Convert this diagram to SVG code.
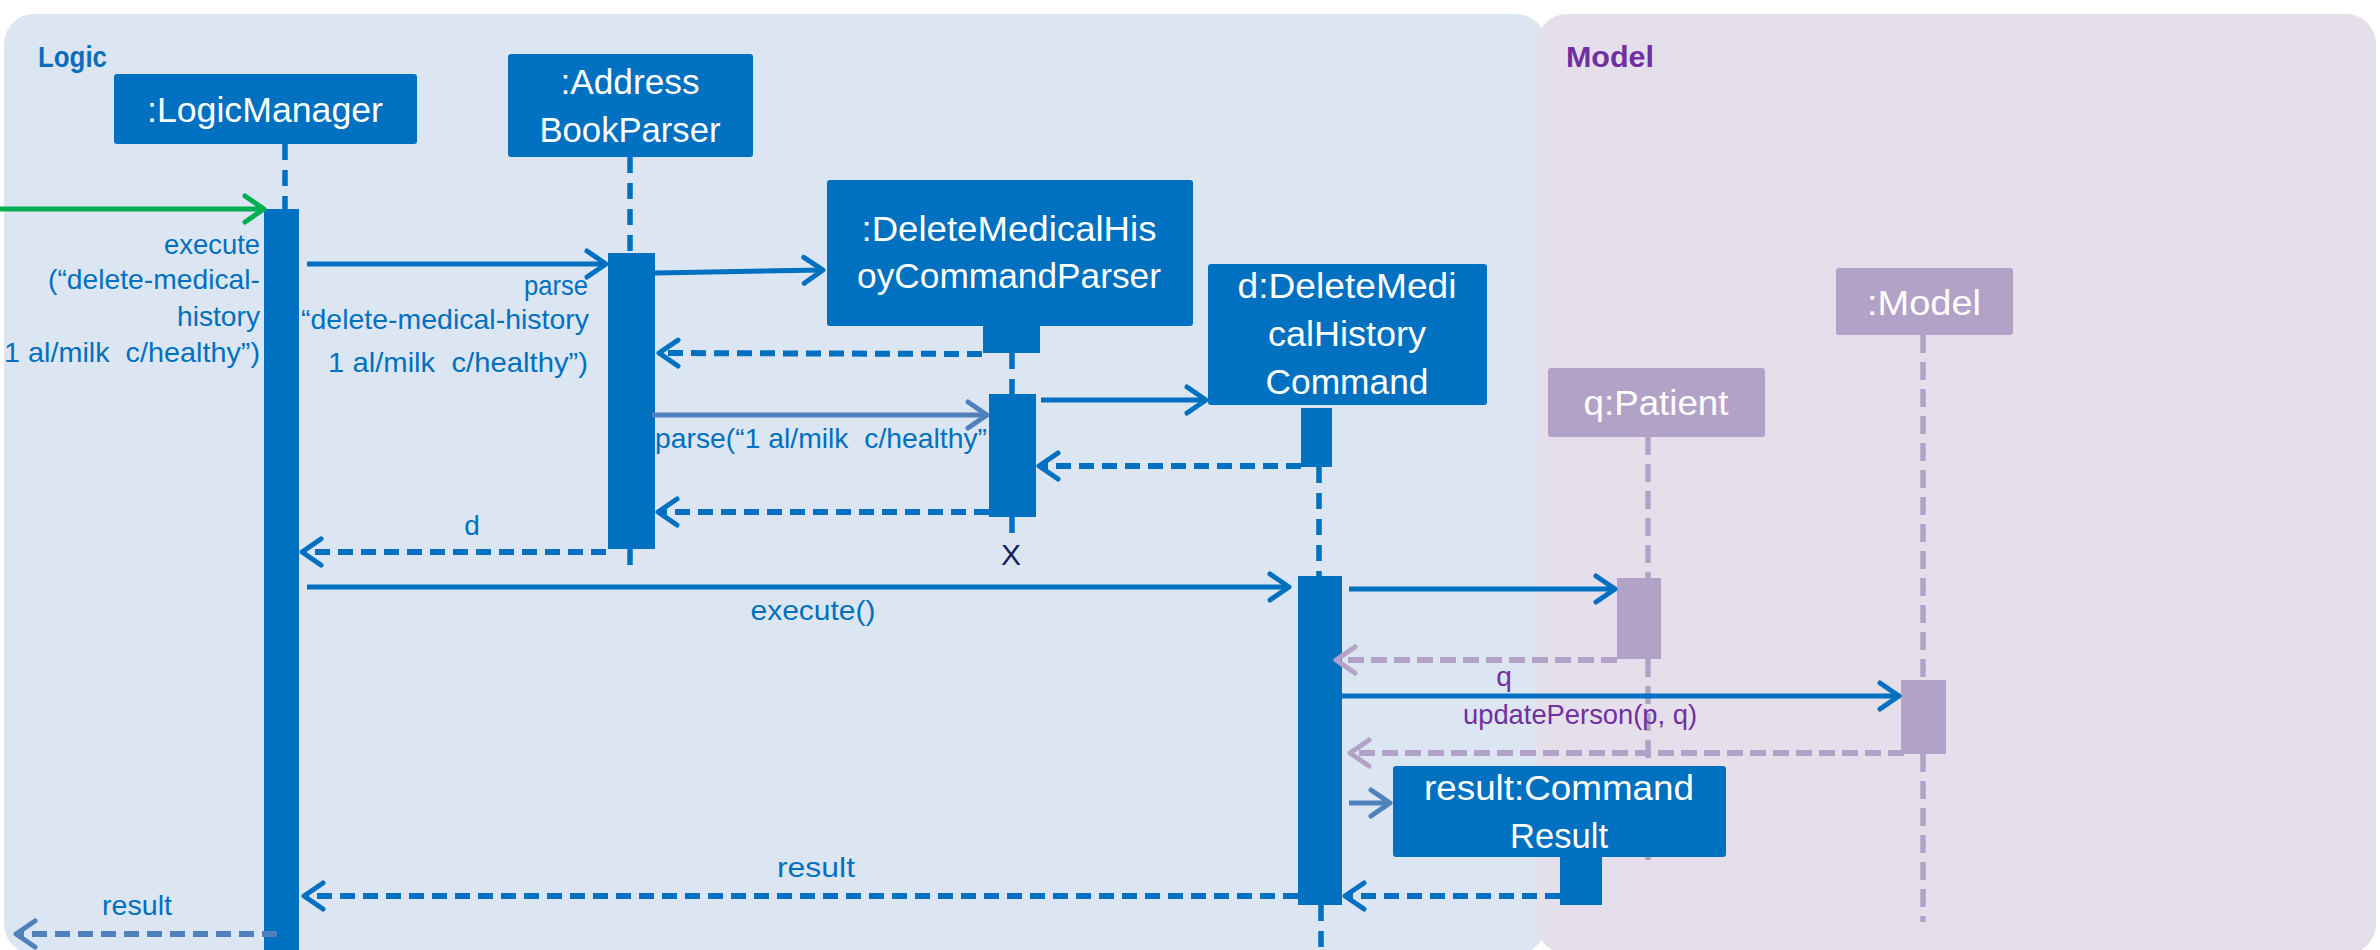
<svg xmlns="http://www.w3.org/2000/svg" width="2380" height="950" viewBox="0 0 2380 950">
<defs>
<style>
text{font-family:"Liberation Sans",Arial,sans-serif}
.box{fill:#0070c0}
.pbox{fill:#b3a2c7}
.bt{fill:#ffffff;font-size:35px;text-anchor:middle}
.lbl{fill:#0070c0;font-size:28px}
.plbl{fill:#7030a0;font-size:28px}
.life{stroke:#0070c0;stroke-width:5.5;stroke-dasharray:16 10;fill:none}
.plife{stroke:#b3a2c7;stroke-width:5.5;stroke-dasharray:18 9;fill:none}
.call{stroke:#0070c0;stroke-width:5;fill:none;marker-end:url(#hb)}
.lcall{stroke:#4f81bd;stroke-width:5;fill:none;marker-end:url(#hl)}
.ret{stroke:#0070c0;stroke-width:6;stroke-dasharray:15 8;fill:none;marker-end:url(#hb)}
.lret{stroke:#4f81bd;stroke-width:6;stroke-dasharray:15 8;fill:none;marker-end:url(#hl)}
.pret{stroke:#b3a2c7;stroke-width:6;stroke-dasharray:16 7;fill:none;marker-end:url(#hp)}
</style>
<marker id="hb" markerUnits="userSpaceOnUse" markerWidth="40" markerHeight="40" viewBox="-25 -20 30 40" refX="0" refY="0" orient="auto" overflow="visible"><path d="M-19,-13 L0,0 L-19,13" fill="none" stroke="#0070c0" stroke-width="5" stroke-linecap="round" stroke-linejoin="round"/></marker>
<marker id="hl" markerUnits="userSpaceOnUse" markerWidth="40" markerHeight="40" viewBox="-25 -20 30 40" refX="0" refY="0" orient="auto" overflow="visible"><path d="M-19,-13 L0,0 L-19,13" fill="none" stroke="#4f81bd" stroke-width="5" stroke-linecap="round" stroke-linejoin="round"/></marker>
<marker id="hp" markerUnits="userSpaceOnUse" markerWidth="40" markerHeight="40" viewBox="-25 -20 30 40" refX="0" refY="0" orient="auto" overflow="visible"><path d="M-19,-13 L0,0 L-19,13" fill="none" stroke="#b3a2c7" stroke-width="5" stroke-linecap="round" stroke-linejoin="round"/></marker>
<marker id="hg" markerUnits="userSpaceOnUse" markerWidth="40" markerHeight="40" viewBox="-25 -20 30 40" refX="0" refY="0" orient="auto" overflow="visible"><path d="M-19,-13 L0,0 L-19,13" fill="none" stroke="#00b050" stroke-width="5" stroke-linecap="round" stroke-linejoin="round"/></marker>
</defs>

<g id="panels">
<rect id="logic-panel" x="4" y="14" width="1542" height="940" rx="30" fill="#dce6f2"/>
<rect id="model-panel" x="1537" y="14" width="839" height="940" rx="30" fill="#e5dfec"/>
<text x="38" y="67" font-size="30" font-weight="bold" fill="#0e6dbb" textLength="69" lengthAdjust="spacingAndGlyphs">Logic</text>
<text x="1566" y="67" font-size="30" font-weight="bold" fill="#7030a0" textLength="88" lengthAdjust="spacingAndGlyphs">Model</text>
</g>

<g id="lifelines">
<line class="life" x1="285" y1="144" x2="285" y2="209"/>
<line class="life" x1="630" y1="157" x2="630" y2="253"/>
<line class="life" x1="630" y1="549" x2="630" y2="574"/>
<line class="life" x1="1012" y1="353" x2="1012" y2="394"/>
<line class="life" x1="1012" y1="517" x2="1012" y2="541" stroke-dasharray="16 6"/>
<line class="life" x1="1319" y1="467" x2="1319" y2="576"/>
<line class="life" x1="1321" y1="905" x2="1321" y2="950"/>
<line class="plife" x1="1648" y1="437" x2="1648" y2="578"/>
<line class="plife" x1="1648" y1="659" x2="1648" y2="860"/>
<line class="plife" x1="1923" y1="335" x2="1923" y2="680"/>
<line class="plife" x1="1923" y1="754" x2="1923" y2="922"/>
</g>

<g id="n-logicmanager">
<rect class="box" x="114" y="74" width="303" height="70" rx="3"/>
<text class="bt" x="265" y="122" textLength="236" lengthAdjust="spacingAndGlyphs">:LogicManager</text>
<rect class="box" x="264" y="209" width="35" height="745"/>
</g>

<g id="n-addressbookparser">
<rect class="box" x="508" y="54" width="245" height="103" rx="3"/>
<text class="bt" x="630" y="94" textLength="139" lengthAdjust="spacingAndGlyphs">:Address</text>
<text class="bt" x="630" y="142" textLength="181" lengthAdjust="spacingAndGlyphs">BookParser</text>
<rect class="box" x="608" y="253" width="47" height="296"/>
</g>

<g id="n-deletemedicalhistorycommandparser">
<rect class="box" x="827" y="180" width="366" height="146" rx="3"/>
<text class="bt" x="1009" y="241" textLength="295" lengthAdjust="spacingAndGlyphs">:DeleteMedicalHis</text>
<text class="bt" x="1009" y="288" textLength="304" lengthAdjust="spacingAndGlyphs">oyCommandParser</text>
<rect class="box" x="983" y="324" width="57" height="29"/>
<rect class="box" x="989" y="394" width="47" height="123"/>
<text x="1011" y="565" font-size="30" fill="#14225e" text-anchor="middle">X</text>
</g>

<g id="n-deletemedicalhistorycommand">
<rect class="box" x="1208" y="264" width="279" height="141" rx="3"/>
<text class="bt" x="1347" y="298" textLength="219" lengthAdjust="spacingAndGlyphs">d:DeleteMedi</text>
<text class="bt" x="1347" y="346" textLength="158" lengthAdjust="spacingAndGlyphs">calHistory</text>
<text class="bt" x="1347" y="394" textLength="163" lengthAdjust="spacingAndGlyphs">Command</text>
<rect class="box" x="1301" y="408" width="31" height="59"/>
<rect class="box" x="1298" y="576" width="44" height="329"/>
</g>

<g id="n-patient">
<rect class="pbox" x="1548" y="368" width="217" height="69" rx="3"/>
<text class="bt" x="1656" y="415" textLength="145" lengthAdjust="spacingAndGlyphs">q:Patient</text>
<rect class="pbox" x="1617" y="578" width="44" height="81"/>
</g>

<g id="n-model">
<rect class="pbox" x="1836" y="268" width="177" height="67" rx="3"/>
<text class="bt" x="1924" y="315" textLength="114" lengthAdjust="spacingAndGlyphs">:Model</text>
<rect class="pbox" x="1901" y="680" width="45" height="74"/>
</g>

<g id="n-commandresult">
<rect class="box" x="1393" y="766" width="333" height="91" rx="3"/>
<text class="bt" x="1559" y="800" textLength="270" lengthAdjust="spacingAndGlyphs">result:Command</text>
<text class="bt" x="1559" y="848" textLength="98" lengthAdjust="spacingAndGlyphs">Result</text>
<rect class="box" x="1560" y="855" width="42" height="50"/>
</g>

<g id="connectors">
<line x1="0" y1="209" x2="264" y2="209" stroke="#00b050" stroke-width="5" marker-end="url(#hg)"/>
<line class="call" x1="307" y1="264" x2="606" y2="264"/>
<line class="call" x1="655" y1="273" x2="823" y2="270"/>
<line class="ret" x1="982" y1="354" x2="659" y2="353"/>
<line class="lcall" x1="652" y1="415" x2="987" y2="415"/>
<line class="call" x1="1041" y1="400" x2="1206" y2="400"/>
<line class="ret" x1="1301" y1="466" x2="1039" y2="466"/>
<line class="ret" x1="989" y1="512" x2="658" y2="512"/>
<line class="ret" x1="606" y1="552" x2="302" y2="552"/>
<line class="call" x1="307" y1="587" x2="1289" y2="587"/>
<line class="call" x1="1349" y1="589" x2="1615" y2="589"/>
<line class="pret" x1="1617" y1="660" x2="1336" y2="660"/>
<line class="call" x1="1342" y1="696" x2="1899" y2="696"/>
<line class="pret" x1="1904" y1="753" x2="1350" y2="753"/>
<line class="lcall" x1="1349" y1="803" x2="1390" y2="803"/>
<line class="ret" x1="1560" y1="896" x2="1345" y2="896"/>
<line class="ret" x1="1298" y1="896" x2="304" y2="896"/>
<line class="lret" x1="277" y1="934" x2="16" y2="934"/>

<text class="lbl" x="260" y="254" text-anchor="end" textLength="96" lengthAdjust="spacingAndGlyphs">execute</text>
<text class="lbl" x="260" y="289" text-anchor="end" textLength="212" lengthAdjust="spacingAndGlyphs">(“delete-medical-</text>
<text class="lbl" x="260" y="326" text-anchor="end" textLength="83" lengthAdjust="spacingAndGlyphs">history</text>
<text class="lbl" x="260" y="362" text-anchor="end" textLength="256" lengthAdjust="spacingAndGlyphs" xml:space="preserve">1 al/milk  c/healthy”)</text>
<text class="lbl" x="588" y="295" text-anchor="end" textLength="64" lengthAdjust="spacingAndGlyphs">parse</text>
<text class="lbl" x="589" y="329" text-anchor="end" textLength="288" lengthAdjust="spacingAndGlyphs">“delete-medical-history</text>
<text class="lbl" x="588" y="372" text-anchor="end" textLength="260" lengthAdjust="spacingAndGlyphs" xml:space="preserve">1 al/milk  c/healthy”)</text>
<text class="lbl" x="655" y="448" textLength="332" lengthAdjust="spacingAndGlyphs" xml:space="preserve">parse(“1 al/milk  c/healthy”</text>
<text class="lbl" x="472" y="535" text-anchor="middle">d</text>
<text class="lbl" x="813" y="620" text-anchor="middle" textLength="125" lengthAdjust="spacingAndGlyphs">execute()</text>
<text class="plbl" x="1504" y="686" text-anchor="middle">q</text>
<text class="plbl" x="1463" y="724" textLength="234" lengthAdjust="spacingAndGlyphs">updatePerson(p, q)</text>
<text class="lbl" x="816" y="877" text-anchor="middle" textLength="78" lengthAdjust="spacingAndGlyphs">result</text>
<text class="lbl" x="137" y="915" text-anchor="middle" textLength="70" lengthAdjust="spacingAndGlyphs">result</text>
</g>
</svg>
